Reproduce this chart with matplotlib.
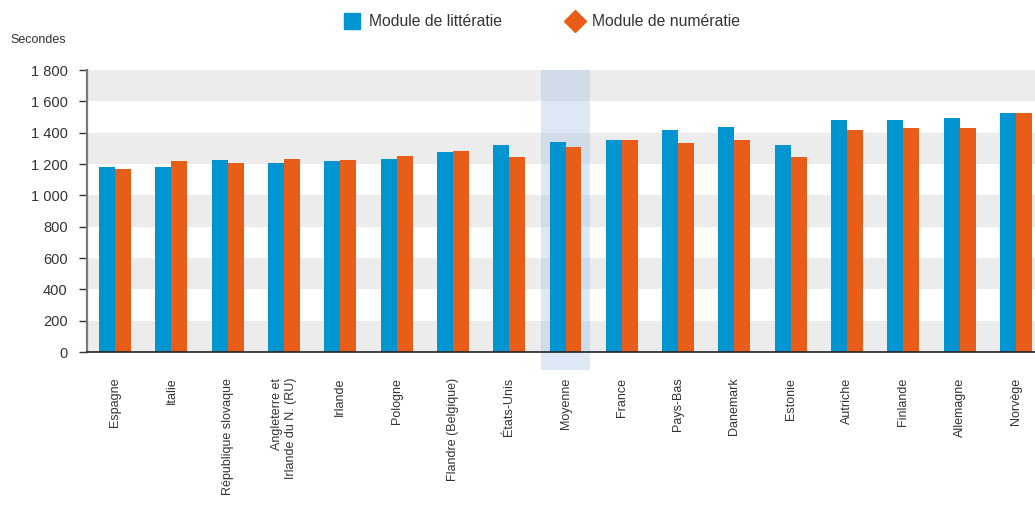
import matplotlib
matplotlib.use("Agg")
import matplotlib.pyplot as plt
from matplotlib.lines import Line2D
import numpy as np

categories = ["Espagne", "Italie", "République slovaque", "Angleterre et\nIrlande du N. (RU)",
              "Irlande", "Pologne", "Flandre (Belgique)", "États-Unis", "Moyenne", "France",
              "Pays-Bas", "Danemark", "Estonie", "Autriche", "Finlande", "Allemagne", "Norvège"]
litteratie = [1181, 1181, 1225, 1206, 1219, 1232, 1276, 1321, 1340, 1353,
              1417, 1436, 1321, 1481, 1481, 1493, 1525]
numeratie = [1168, 1219, 1206, 1232, 1225, 1251, 1283, 1244, 1308, 1353,
             1334, 1353, 1244, 1417, 1430, 1430, 1525]
yticks = [0, 200, 400, 600, 800, 1000, 1200, 1400, 1600, 1800]
ytick_labels = ["0", "200", "400", "600", "800", "1 000", "1 200", "1 400", "1 600", "1 800"]
highlight = "Moyenne"

plt.rcParams['font.family'] = ['Liberation Sans', 'DejaVu Sans']

BLUE = "#0095d0"
ORANGE = "#e85e18"
GRAY = "#ebeceb"
TXT = "#333333"

fig = plt.figure(figsize=(10.35, 5.14), dpi=100)
ax = fig.add_axes([87/1035, 162/514, 1 - 87/1035, 282/514])

x = np.arange(len(categories))
w = 0.284
ax.set_xlim(-0.5, len(categories) - 1 + 0.34)
ax.set_ylim(0, 1800)

for i in range(0, len(yticks) - 1):
    if i % 2 == 0:
        ax.axhspan(yticks[i], yticks[i + 1], color=GRAY, zorder=0, lw=0)

hi = categories.index(highlight)
ax.add_patch(plt.Rectangle((hi - 0.435, -115), 0.87, 1915, facecolor="#a9c8e4", alpha=0.4,
                           lw=0, zorder=1, clip_on=False))

ax.bar(x - w/2, litteratie, width=w, color=BLUE, zorder=2, lw=0)
ax.bar(x + w/2, numeratie, width=w, color=ORANGE, zorder=2, lw=0)

ax.set_yticks(yticks)
ax.set_yticklabels(ytick_labels, fontsize=10.5, color=TXT)
ax.tick_params(axis='y', length=6, width=1, color="#333333", pad=8)
ax.set_xticks(x)
ax.set_xticklabels(categories, rotation=90, fontsize=9, color=TXT, va='top', ha='center',
                   multialignment='right')
ax.tick_params(axis='x', length=0, pad=18.5)

for s in ["top", "right"]:
    ax.spines[s].set_visible(False)
ax.spines["left"].set_color("#7a7a7a")
ax.spines["left"].set_linewidth(1.6)
ax.spines["bottom"].set_color("#222222")
ax.spines["bottom"].set_linewidth(1.2)
ax.spines["left"].set_zorder(3)
ax.spines["bottom"].set_zorder(3)

fig.text(10/1035, 1 - 40/514, "Secondes", fontsize=9, color=TXT, va='center', ha='left')

handles = [Line2D([], [], marker='s', color=BLUE, linestyle='none', markersize=11),
           Line2D([], [], marker='D', color=ORANGE, linestyle='none', markersize=11)]
fig.legend(handles, ["Module de littératie", "Module de numératie"], loc='center',
           bbox_to_anchor=(542/1035, 1 - 22/514), ncol=2, frameon=False, fontsize=11.3,
           handlelength=1.0, handletextpad=0.6, columnspacing=4.1, labelcolor=TXT)

fig.savefig("out.png", dpi=100)
